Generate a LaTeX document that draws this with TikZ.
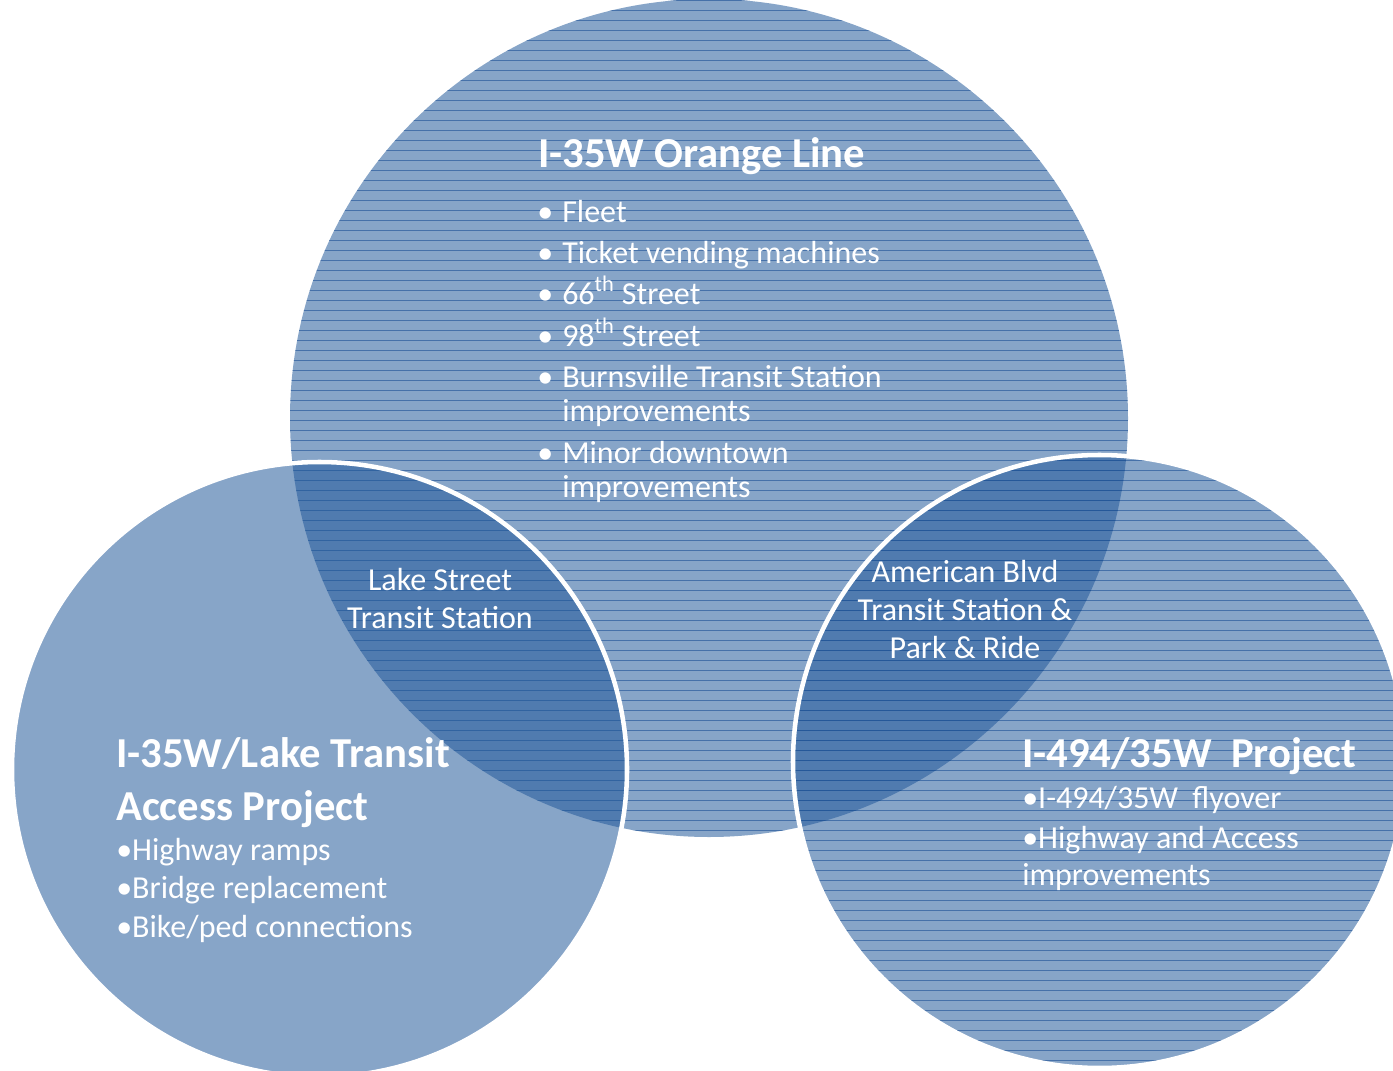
\documentclass[tikz,border=0pt]{standalone}
\usepackage{fontspec}
\setmainfont{Carlito}
\usepackage{xcolor}
\usepackage{tikz}
\usetikzlibrary{positioning}

\definecolor{vennblue}{RGB}{33,88,153}
\definecolor{stripeblue}{RGB}{30,82,150}

\tikzset{
  venn/.style={fill=vennblue, fill opacity=0.54},
  ring/.style={draw=white, line width=3.4pt},
  stripe/.style={draw=stripeblue, draw opacity=0.62, line width=0.6pt},
  title/.style={anchor=base west, inner sep=0pt, text=white, font=\fontsize{32}{36}\selectfont\bfseries},
  item/.style={anchor=base west, inner sep=0pt, text=white, font=\fontsize{24}{28}\selectfont},
  midlabel/.style={anchor=base, inner sep=0pt, text=white, font=\fontsize{24}{28}\selectfont},
}

\begin{document}
\begin{tikzpicture}[x=0.75pt,y=0.75pt,yscale=-1,xscale=1]
\useasboundingbox (0,0) rectangle (1393,1071);

%Shape: Circle - Orange Line
\fill [venn] (709,418) circle [radius=419];
\begin{scope}
  \clip (709,418) circle [radius=419];
  \foreach \y in {0,10,...,840}
    \draw [stripe] (280,\y) -- (1140,\y);
\end{scope}

%Shape: Circle - Lake Transit Access
\fill [venn] (319.5,769.5) circle [radius=307.5];
\draw [ring] (319.5,769.5) circle [radius=307.5];

%Shape: Circle - 494/35W
\fill [venn] (1099.5,761.5) circle [radius=306.5];
\begin{scope}
  \clip (1099.5,761.5) circle [radius=306.5];
  \foreach \y in {450,460,...,1080}
    \draw [stripe] (780,\y) -- (1410,\y);
\end{scope}
\draw [ring] (1099.5,761.5) circle [radius=306.5];

% Text Node - Orange Line
\node (orangetitle) at (538,167) [title] {I-35W Orange Line};
\node (b1) at (537,222) [item] {•};
\node (fleet) at (562,222) [item] {Fleet};
\node (b2) at (537,263) [item] {•};
\node (ticket) at (562,263) [item] {Ticket vending machines};
\node (b3) at (537,304) [item] {•};
\node (sixtysix) at (562,304) [item] {66\textsuperscript{th} Street};
\node (b4) at (537,346) [item] {•};
\node (ninetyeight) at (562,346) [item] {98\textsuperscript{th} Street};
\node (b5) at (537,387) [item] {•};
\node (burnsville) at (562,387) [item] {Burnsville Transit Station};
\node (burnsimp) at (562,421) [item] {improvements};
\node (b6) at (537,463) [item] {•};
\node (downtown) at (562,463) [item] {Minor downtown};
\node (downimp) at (562,497) [item] {improvements};

% Text Node - Lake Transit Access
\node (laketitle) at (116,767) [title] {I-35W/Lake Transit};
\node (laketitleb) at (116,820) [title] {Access Project};
\node (ramps) at (116,860) [item] {•Highway ramps};
\node (bridge) at (116,898) [item] {•Bridge replacement};
\node (bike) at (116,937) [item] {•Bike/ped connections};

% Text Node - 494/35W
\node (flytitle) at (1022,767) [title] {I-494/35W\ \ Project};
\node (flyover) at (1022,808) [item] {•I-494/35W\ \ flyover};
\node (access) at (1022,848) [item] {•Highway and Access};
\node (accessimp) at (1022,885) [item] {improvements};

% Text Node - overlaps
\node (lakest) at (440,590) [midlabel] {Lake Street};
\node (lakestation) at (440,628) [midlabel] {Transit Station};
\node (american) at (965,582) [midlabel] {American Blvd};
\node (amstation) at (965,620) [midlabel] {Transit Station \&};
\node (parkride) at (965,658) [midlabel] {Park \& Ride};

\end{tikzpicture}
\end{document}
